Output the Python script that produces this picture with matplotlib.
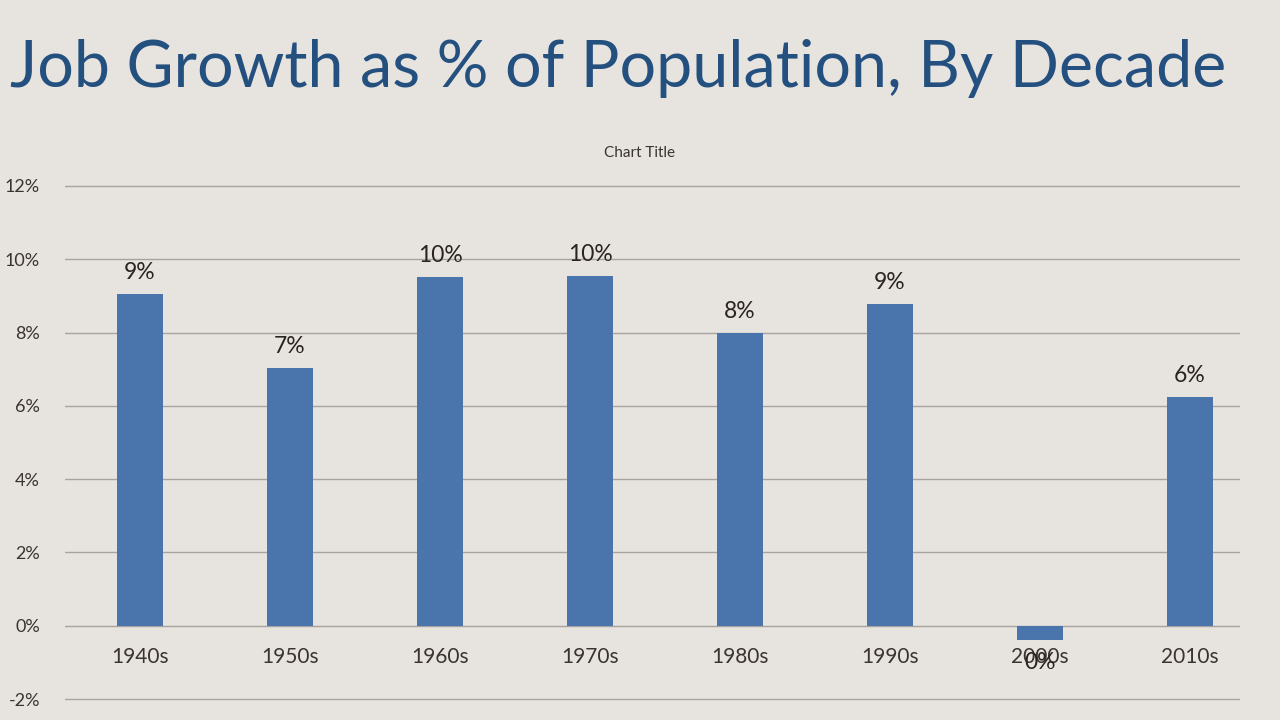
import matplotlib
matplotlib.use("Agg")
import matplotlib.pyplot as plt

decades = ["1940s", "1950s", "1960s", "1970s", "1980s", "1990s", "2000s", "2010s"]
growth = [9.05, 7.04, 9.52, 9.55, 7.99, 8.78, -0.38, 6.25]
labels = ["9%", "7%", "10%", "10%", "8%", "9%", "0%", "6%"]
yticks = [-2, 0, 2, 4, 6, 8, 10, 12]

bg = "#e7e4e0"
plt.rcParams['font.family'] = ['Lato', 'DejaVu Sans']

ppu = (699 - 186) / 14.0  # pixels per percent
top_px = 186 - 0.2 * ppu
bot_px = 699 + 0.2 * ppu

fig = plt.figure(figsize=(12.8, 7.2), dpi=100, facecolor=bg)
ax = fig.add_axes([65/1280, 1 - bot_px/720, (1240-65)/1280, (bot_px-top_px)/720])
ax.set_facecolor(bg)

x = list(range(len(decades)))
ax.bar(x, growth, width=0.313, color="#4a74ac", zorder=3)
ax.set_xlim(-0.5, (1240 - 65) / 150 - 0.5)
ax.set_ylim(-2.2, 12.2)
ax.set_yticks(yticks)
ax.set_yticklabels([f"{t}%" for t in yticks], fontsize=13, color="#3a3330")
ax.tick_params(axis='y', length=0, pad=18)
ax.set_xticks([])
for s in ax.spines.values():
    s.set_visible(False)
ax.grid(axis='y', color="#a8a2a0", linewidth=1, zorder=0)

for xi, d, v, lab in zip(x, decades, growth, labels):
    ax.text(xi, -0.85, d, ha='center', va='center', fontsize=15, color="#3a3330", zorder=4)
    if v >= 0:
        ax.text(xi, v + 0.3, lab, ha='center', va='bottom', fontsize=16.5, color="#2a2320", zorder=4)
    else:
        ax.text(xi, v - 0.63, lab, ha='center', va='center', fontsize=16.5, color="#2a2320", zorder=4)

fig.text(10/1280, 1 - 68/720, "Job Growth as % of Population, By Decade", ha='left', va='center',
         fontsize=46.5, color="#24507f")
fig.text(640/1280, 1 - 153/720, "Chart Title", ha='center', va='center', fontsize=11, color="#3a3330")

fig.savefig("out.png", dpi=100, facecolor=bg)
